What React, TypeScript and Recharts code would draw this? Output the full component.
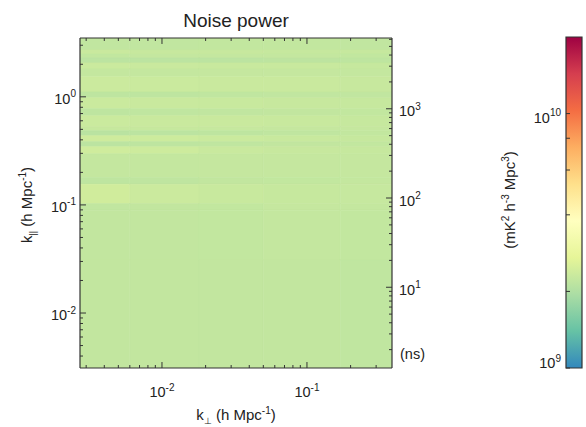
import React from 'react';
import { ComposedChart, XAxis, YAxis, ReferenceArea, Scatter } from 'recharts';

// k_perp bin edges (h/Mpc), left to right
const kPerpEdges = [0.00272, 0.006, 0.018, 0.05, 0.17, 0.386];
// k_par bin edges (h/Mpc), top to bottom
const kParEdges = [3.5, 2.71, 2.49, 2.29, 2.06, 1.81, 1.53, 1.11, 0.98, 0.775, 0.668, 0.529, 0.486, 0.437, 0.385, 0.346, 0.298, 0.179, 0.155, 0.103, 0.089, 0.031, 0.0031];
// noise power per cell, units of 1e9 mK^2 h^-3 Mpc^3 (rows follow kParEdges)
const noisePower = [
  [2.2, 2.2, 2.22, 2.22, 2.2],
  [2.3, 2.28, 2.28, 2.27, 2.27],
  [2.22, 2.24, 2.24, 2.24, 2.22],
  [2.14, 2.14, 2.14, 2.15, 2.17],
  [2.32, 2.3, 2.29, 2.29, 2.27],
  [2.24, 2.24, 2.25, 2.25, 2.24],
  [2.33, 2.32, 2.31, 2.3, 2.28],
  [2.16, 2.17, 2.19, 2.2, 2.2],
  [2.32, 2.3, 2.29, 2.28, 2.27],
  [2.17, 2.19, 2.2, 2.21, 2.22],
  [2.32, 2.31, 2.3, 2.29, 2.27],
  [2.27, 2.27, 2.26, 2.25, 2.25],
  [2.12, 2.14, 2.17, 2.19, 2.22],
  [2.37, 2.35, 2.32, 2.29, 2.27],
  [2.14, 2.16, 2.19, 2.21, 2.22],
  [2.38, 2.36, 2.31, 2.28, 2.27],
  [2.24, 2.24, 2.25, 2.25, 2.25],
  [2.16, 2.18, 2.21, 2.22, 2.24],
  [2.4, 2.33, 2.29, 2.27, 2.26],
  [2.2, 2.21, 2.22, 2.25, 2.24],
  [2.21, 2.21, 2.22, 2.24, 2.22],
  [2.21, 2.21, 2.21, 2.21, 2.19],
];

const kPerpMajor = [0.01, 0.1];
const kPerpMinor = [0.003, 0.004, 0.005, 0.006, 0.007, 0.008, 0.009, 0.02, 0.03, 0.04, 0.05, 0.06, 0.07, 0.08, 0.09, 0.2, 0.3];
const kParMajor = [0.01, 0.1, 1];
const kParMinor = [0.004, 0.005, 0.006, 0.007, 0.008, 0.009, 0.02, 0.03, 0.04, 0.05, 0.06, 0.07, 0.08, 0.09, 0.2, 0.3, 0.4, 0.5, 0.6, 0.7, 0.8, 0.9, 2, 3];
const delayMajor = [10, 100, 1000];
const delayMinor = [2, 3, 4, 5, 6, 7, 8, 9, 20, 30, 40, 50, 60, 70, 80, 90, 200, 300, 400, 500, 600, 700, 800, 900, 2000, 3000, 4000, 5000, 6000];
const cbarMajor = [1e9, 1e10];
const cbarMinor = [2e9, 4e9, 6e9, 8e9];

const kPerpDomain = [0.00272, 0.386];
const kParDomain = [0.0031, 3.5];
const delayDomain = [1.245, 6210];
const cbarDomain = [1e9, 2e10];

const spectral = ['#3288bd', '#66c2a5', '#abdda4', '#e6f598', '#ffffbf', '#fee08b', '#fdae61', '#f46d43', '#d53e4f', '#9e0142'];

const FONT = '"Liberation Sans", Arial, Helvetica, sans-serif';
const INK = '#222';
const FRAME = '#333';

const W = 586;
const H = 427;
const plotMargin = { top: 38, right: 194, bottom: 59, left: 80 };
const cbarMargin = { top: 37, right: 4, bottom: 59, left: 566 };
const THIN = 0.01; // axis box size, so the axes take no room

function hexToRgb(h: string) {
  return [1, 3, 5].map((i) => parseInt(h.slice(i, i + 2), 16));
}

function powerColor(v: number) {
  const lo = Math.log10(cbarDomain[0]);
  const hi = Math.log10(cbarDomain[1]);
  const t = Math.min(Math.max((Math.log10(v) - lo) / (hi - lo), 0), 1);
  const p = t * (spectral.length - 1);
  const i = Math.min(Math.floor(p), spectral.length - 2);
  const f = p - i;
  const a = hexToRgb(spectral[i]);
  const b = hexToRgb(spectral[i + 1]);
  const c = a.map((ai, k) => Math.round(ai + (b[k] - ai) * f));
  return `rgb(${c[0]},${c[1]},${c[2]})`;
}

function Pow10({ x, y, value, anchor }: { x: number; y: number; value: number; anchor: string }) {
  const exp = Math.round(Math.log10(value));
  return (
    <text x={x} y={y} textAnchor={anchor} fontSize={14.5} fontFamily={FONT} fill={INK}>
      10<tspan dy={-6.5} fontSize={10}>{exp}</tspan>
    </text>
  );
}

// label renderer; x/y arrive on the axis line because tickMargin cancels tickSize
function PowLabel(props: any) {
  const { x, y, payload, side } = props;
  const v = payload.value;
  if (side === 'bottom') return <Pow10 x={x} y={y + 29} value={v} anchor="middle" />;
  if (side === 'left') return <Pow10 x={x - 4} y={y + 7} value={v} anchor="end" />;
  if (side === 'right') return <Pow10 x={x + 7} y={y + 7.5} value={v} anchor="start" />;
  return <Pow10 x={x - 5} y={v === cbarDomain[0] ? y : y + 9} value={v} anchor="end" />;
}

const axisLine = { stroke: FRAME, strokeWidth: 1.2 };
const tickLine = { stroke: FRAME, strokeWidth: 1 };
const noTick = () => <g />;
const noShape = () => <g />;
const layer: React.CSSProperties = { position: 'absolute', left: 0, top: 0 };
const logAxis = { type: 'number' as const, scale: 'log' as const, interval: 0 as const, allowDataOverflow: true };

// corner points of the grid, used only to anchor the axis domains
const gridCorners = [
  { kperp: kPerpEdges[0], kpar: kParEdges[kParEdges.length - 1] },
  { kperp: kPerpEdges[kPerpEdges.length - 1], kpar: kParEdges[0] },
];
const cbarEnds = [
  { pos: 0, power: cbarDomain[0] },
  { pos: 1, power: cbarDomain[1] },
];

// The k-space panel axes: frame lines and labels (tick marks come from the strips below)
function panelAxes(show: boolean) {
  const lab = { mirror: true, tickSize: 6, tickMargin: -6, tickLine: false, ...logAxis };
  return [
    <XAxis key="xb" xAxisId="kperp" dataKey="kperp" domain={kPerpDomain} orientation="bottom" height={THIN} hide={!show}
      ticks={kPerpMajor} tick={(p: any) => <PowLabel {...p} side="bottom" />} axisLine={axisLine} {...lab} />,
    <XAxis key="xt" xAxisId="kperpTop" dataKey="kperp" domain={kPerpDomain} orientation="top" height={THIN} hide={!show}
      ticks={kPerpMajor} tick={noTick} axisLine={axisLine} {...lab} />,
    <YAxis key="yl" yAxisId="kpar" dataKey="kpar" domain={kParDomain} orientation="left" width={THIN} hide={!show}
      ticks={kParMajor} tick={(p: any) => <PowLabel {...p} side="left" />} axisLine={axisLine} {...lab} />,
    <YAxis key="yr" yAxisId="delay" domain={delayDomain} orientation="right" width={THIN} hide={!show}
      ticks={delayMajor} tick={(p: any) => <PowLabel {...p} side="right" />} axisLine={axisLine} {...lab} />,
  ];
}

// A tick-mark strip: an axis placed on the far side of a thin chart so that its
// outward ticks point into the neighbouring plot.
function TickStrip({ side, margin, domain, major, minor, majorLen, minorLen }: any) {
  const data = [{ v: domain[0] }, { v: domain[1] }];
  const isY = side === 'left' || side === 'right';
  const axis = (id: string, ticks: number[], len: number) =>
    isY ? (
      <YAxis key={id} yAxisId={id} dataKey="v" domain={domain} orientation={side} width={THIN} ticks={ticks}
        tickSize={len} tickLine={tickLine} tick={noTick} axisLine={false} {...logAxis} />
    ) : (
      <XAxis key={id} xAxisId={id} dataKey="v" domain={domain} orientation={side} height={THIN} ticks={ticks}
        tickSize={len} tickLine={tickLine} tick={noTick} axisLine={false} {...logAxis} />
    );
  return (
    <div style={layer}>
      <ComposedChart width={W} height={H} data={data} margin={margin}>
        {isY ? <XAxis xAxisId="maj" dataKey="v" type="number" hide /> : <YAxis yAxisId="maj" dataKey="v" type="number" hide />}
        {axis('maj', major, majorLen)}
        {minor.length > 0 && axis('min', minor, minorLen)}
        <Scatter xAxisId="maj" yAxisId="maj" dataKey="v" shape={noShape} isAnimationActive={false} />
      </ComposedChart>
    </div>
  );
}

function cbarAxes(show: boolean) {
  return [
    <XAxis key="cx" xAxisId="cb" dataKey="pos" type="number" domain={[0, 1]} hide allowDataOverflow />,
    <YAxis key="cy" yAxisId="cb" dataKey="power" domain={cbarDomain} orientation="left" width={THIN} hide={!show}
      ticks={cbarMajor} mirror tickSize={4} tickMargin={-4} tickLine={false}
      tick={(p: any) => <PowLabel {...p} side="cbar" />} axisLine={false} {...logAxis} />,
  ];
}

export default function App() {
  const cells = noisePower.flatMap((row, r) =>
    row.map((v, c) => {
      const color = powerColor(v * 1e9);
      return (
        <ReferenceArea
          key={`${r}-${c}`}
          xAxisId="kperp"
          yAxisId="kpar"
          x1={kPerpEdges[c]}
          x2={kPerpEdges[c + 1]}
          y1={kParEdges[r + 1]}
          y2={kParEdges[r]}
          fill={color}
          fillOpacity={1}
          stroke={color}
          strokeWidth={0.6}
          ifOverflow="hidden"
        />
      );
    })
  );

  const { top, right, bottom, left } = plotMargin;
  const plotRight = W - right;
  const plotBottom = H - bottom;
  const cbarLeft = cbarMargin.left;

  return (
    <div style={{ position: 'absolute', left: 0, top: 0, width: W, height: H, background: '#fff' }}>
      <div style={layer}>
        <ComposedChart width={W} height={H} data={gridCorners} margin={plotMargin}>
          {panelAxes(false)}
          {cells}
          <Scatter xAxisId="kperp" yAxisId="kpar" dataKey="kpar" shape={noShape} isAnimationActive={false} />
        </ComposedChart>
      </div>

      <div style={layer}>
        <ComposedChart width={W} height={H} data={cbarEnds} margin={cbarMargin}>
          <defs>
            <linearGradient id="cbarGrad" x1="0" y1="1" x2="0" y2="0">
              {spectral.map((c, i) => (
                <stop key={c} offset={i / (spectral.length - 1)} stopColor={c} />
              ))}
            </linearGradient>
          </defs>
          {cbarAxes(false)}
          <ReferenceArea
            xAxisId="cb"
            yAxisId="cb"
            x1={0}
            x2={1}
            y1={cbarDomain[0]}
            y2={cbarDomain[1]}
            fill="url(#cbarGrad)"
            fillOpacity={1}
            stroke={FRAME}
            strokeWidth={1.2}
          />
          <Scatter xAxisId="cb" yAxisId="cb" dataKey="power" shape={noShape} isAnimationActive={false} />
        </ComposedChart>
      </div>

      <div style={layer}>
        <ComposedChart width={W} height={H} data={gridCorners} margin={plotMargin}>
          {panelAxes(true)}
          <Scatter xAxisId="kperp" yAxisId="kpar" dataKey="kpar" shape={noShape} isAnimationActive={false} />
        </ComposedChart>
      </div>

      <div style={layer}>
        <ComposedChart width={W} height={H} data={cbarEnds} margin={cbarMargin}>
          {cbarAxes(true)}
          <Scatter xAxisId="cb" yAxisId="cb" dataKey="power" shape={noShape} isAnimationActive={false} />
        </ComposedChart>
      </div>

      {/* inward tick marks on all four sides of the panel and on the colour bar */}
      <TickStrip side="right" margin={{ top, bottom, left: 0, right: W - left }} domain={kParDomain}
        major={kParMajor} minor={kParMinor} majorLen={6} minorLen={3} />
      <TickStrip side="left" margin={{ top, bottom, left: plotRight, right: 0 }} domain={delayDomain}
        major={delayMajor} minor={delayMinor} majorLen={6} minorLen={3} />
      <TickStrip side="top" margin={{ top: plotBottom, bottom: 0, left, right }} domain={kPerpDomain}
        major={kPerpMajor} minor={kPerpMinor} majorLen={6} minorLen={3} />
      <TickStrip side="bottom" margin={{ top: 0, bottom: H - top, left, right }} domain={kPerpDomain}
        major={kPerpMajor} minor={kPerpMinor} majorLen={6} minorLen={3} />
      <TickStrip side="right" margin={{ top: cbarMargin.top, bottom: cbarMargin.bottom, left: 0, right: W - cbarLeft }} domain={cbarDomain}
        major={cbarMajor} minor={cbarMinor} majorLen={4} minorLen={4} />

      <svg width={W} height={H} style={{ ...layer, pointerEvents: 'none' }}>
        <text x={236} y={27} textAnchor="middle" fontSize={19} fontFamily={FONT} fill={INK}>
          Noise power
        </text>
        <text x={236} y={420} textAnchor="middle" fontSize={15} fontFamily={FONT} fill={INK}>
          k<tspan dy={4} fontSize={9}>⊥</tspan>
          <tspan dy={-4}> (h Mpc</tspan>
          <tspan dy={-6} fontSize={10}>-1</tspan>
          <tspan dy={6}>)</tspan>
        </text>
        <text x={32} y={205} transform="rotate(-90 32 205)" textAnchor="middle" fontSize={15} fontFamily={FONT} fill={INK}>
          k<tspan dy={4} fontSize={9}>||</tspan>
          <tspan dy={-4}> (h Mpc</tspan>
          <tspan dy={-6} fontSize={10}>-1</tspan>
          <tspan dy={6}>)</tspan>
        </text>
        <text x={400} y={359} fontSize={14.5} fontFamily={FONT} fill={INK}>
          (ns)
        </text>
        <text x={515} y={200} transform="rotate(-90 515 200)" textAnchor="middle" fontSize={15} fontFamily={FONT} fill={INK}>
          (mK<tspan dy={-6} fontSize={10}>2</tspan>
          <tspan dy={6}> h</tspan>
          <tspan dy={-6} fontSize={10}>-3</tspan>
          <tspan dy={6}> Mpc</tspan>
          <tspan dy={-6} fontSize={10}>3</tspan>
          <tspan dy={6}>)</tspan>
        </text>
      </svg>
    </div>
  );
}
